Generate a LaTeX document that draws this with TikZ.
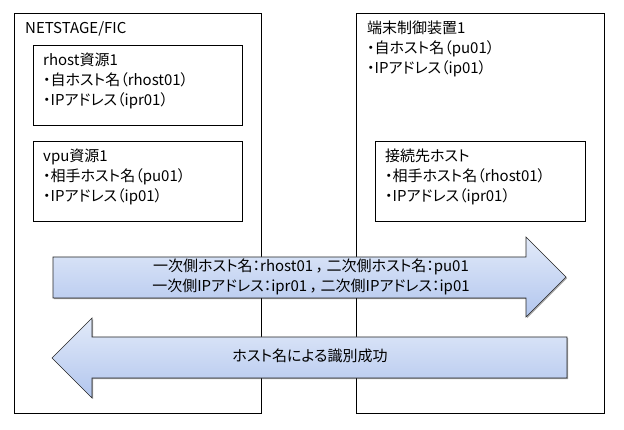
\documentclass[tikz,border=0pt]{standalone}
\usepackage{fontspec}
\setmainfont{Noto Sans CJK JP}[RawFeature=+palt]
\newfontfamily\fwfont{Noto Sans CJK JP}
\usetikzlibrary{shadows}
\definecolor{arrtop}{RGB}{226,234,249}
\definecolor{arrbot}{RGB}{178,198,238}
\newcommand{\fwcomma}{\hspace{2.5pt}{\fwfont，}\hspace{-4pt}}
\begin{document}
\begin{tikzpicture}[x=1pt,y=-1pt,
  box/.style={draw=black,line width=0.8pt,fill=white,anchor=north west,inner sep=0pt},
  txt/.style={anchor=base west,inner sep=0pt,font=\fontsize{15}{20}\selectfont},
  ctxt/.style={anchor=base,inner sep=0pt,font=\fontsize{15}{20}\selectfont},
  bigarrow/.style={draw=black!85,line width=0.6pt,top color=arrtop,bottom color=arrbot,
    drop shadow={shadow xshift=1.2pt,shadow yshift=-1.2pt,opacity=0.35,fill=black}}]
\useasboundingbox (0,0) rectangle (624,430);
% main boxes
\node (L) [box,minimum width=247pt,minimum height=400pt] at (14,13) {};
\node (R) [box,minimum width=248pt,minimum height=400pt] at (356,13) {};
\node (rh) [box,minimum width=209pt,minimum height=80pt] at (33,45) {};
\node (vp) [box,minimum width=209pt,minimum height=80pt] at (33,141) {};
\node (ds) [box,minimum width=210pt,minimum height=80pt] at (375,141) {};
% texts
\node (t1) [txt] at (25,34) {NETSTAGE/FIC};
\node (t2) [txt] at (43,66) {rhost資源1};
\node (t3) [txt] at (43,86) {・自ホスト名（rhost01）};
\node (t4) [txt] at (43,106) {・IPアドレス（ipr01）};
\node (t5) [txt] at (43,162) {vpu資源1};
\node (t6) [txt] at (43,182) {・相手ホスト名（pu01）};
\node (t7) [txt] at (43,202) {・IPアドレス（ip01）};
\node (t8) [txt] at (367,34) {端末制御装置1};
\node (t9) [txt] at (367,54) {・自ホスト名（pu01）};
\node (t10) [txt] at (367,74) {・IPアドレス（ip01）};
\node (t11) [txt] at (385,162) {接続先ホスト};
\node (t12) [txt] at (385,182) {・相手ホスト名（rhost01）};
\node (t13) [txt] at (385,202) {・IPアドレス（ipr01）};
% arrows
\path[bigarrow] (53,257) -- (526,257) -- (526,237) -- (566,277) -- (526,317)
  -- (526,298) -- (53,298) -- cycle;
\path[bigarrow] (567,337) -- (92,337) -- (92,318) -- (52,358) -- (92,398)
  -- (92,378) -- (567,378) -- cycle;
\node (a1) [ctxt] at (311,272) {一次側ホスト名：rhost01\fwcomma 二次側ホスト名：pu01};
\node (a2) [ctxt] at (311,292) {一次側IPアドレス：ipr01\fwcomma 二次側IPアドレス：ip01};
\node (a3) [ctxt] at (310,362) {ホスト名による識別成功};
\end{tikzpicture}
\end{document}
